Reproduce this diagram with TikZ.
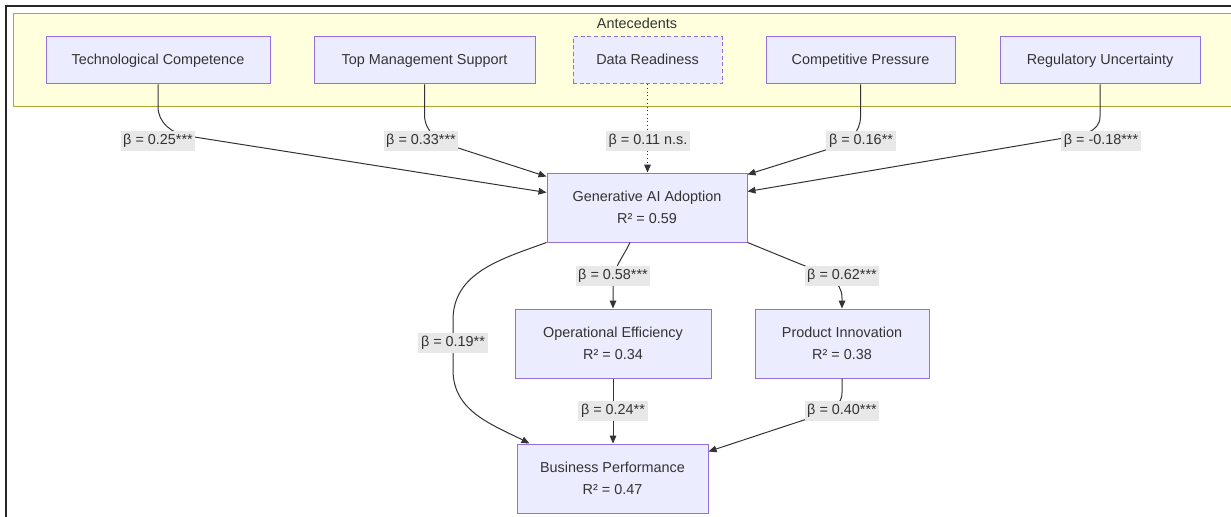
\documentclass[tikz,border=0pt]{standalone}
\usepackage{fontspec}
\setmainfont{Liberation Sans}
\usetikzlibrary{arrows.meta,calc}
\definecolor{mmfill}{HTML}{ECECFF}
\definecolor{mmline}{HTML}{9370DB}
\definecolor{mmgroup}{HTML}{FFFFDE}
\definecolor{mmgroupline}{HTML}{AAAA33}
\definecolor{mmedge}{HTML}{333333}
\definecolor{mmlabel}{HTML}{E8E8E8}

\begin{document}
\begin{tikzpicture}[x=0.75pt, y=0.75pt,
  every node/.style={font=\fontsize{10.8}{16.5}\selectfont, text=mmedge},
  construct/.style={draw=mmline, fill=mmfill, line width=0.75pt, minimum height=35.25pt, inner sep=0pt, align=center},
  antecedent/.style={construct, text height=8pt, text depth=2.5pt},
  outcome/.style={construct, minimum height=51.75pt},
  path/.style={draw=mmedge, line width=0.75pt, -{Triangle[length=6pt,width=5pt]}},
  coef/.style={fill=mmlabel, inner xsep=2pt, inner ysep=2pt, text height=8pt, text depth=2.5pt}]

  \useasboundingbox (0,0) rectangle (1231,-517);

  % ---- Frame ----
  \draw[black!85, line width=1pt] (6,-517) -- (6,-6) -- (1231,-6);

  % ---- Antecedents group ----
  \fill[mmgroup] (13.5,-14) rectangle (1231,-106);
  \draw[mmgroupline, line width=0.75pt] (1231,-14) -- (13.5,-14) -- (13.5,-106) -- (1231,-106);
  \node (ante) at (637,-23) {Antecedents};

  % ---- Constructs ----
  \node[antecedent, minimum width=168pt] (tc) at (158,-60.5) {Technological Competence};
  \node[antecedent, minimum width=165.75pt] (tm) at (424.5,-60.5) {Top Management Support};
  \node[antecedent, dash pattern=on 3pt off 2pt, minimum width=111.75pt] (dr) at (647.5,-60.5) {Data Readiness};
  \node[antecedent, minimum width=141.75pt] (cp) at (860.5,-60.5) {Competitive Pressure};
  \node[antecedent, minimum width=150pt] (ru) at (1100,-60.5) {Regulatory Uncertainty};

  \node[outcome, minimum width=150pt] (gai) at (647,-207.5) {Generative AI Adoption\\R² = 0.59};
  \node[outcome, minimum width=147pt] (oe) at (613,-343.5) {Operational Efficiency\\R² = 0.34};
  \node[outcome, minimum width=130.5pt] (pi) at (842,-343.5) {Product Innovation\\R² = 0.38};
  \node[outcome, minimum width=143.25pt] (bp) at (612.5,-478.5) {Business Performance\\R² = 0.47};

  % ---- Antecedents -> adoption ----
  \draw[path] (tc.south) -- ++(0,-22) to[out=-90,in=171] (188,-136) -- ($(gai.north west)+(0,-20)$);
  \draw[path] (tm.south) -- ++(0,-30) to[out=-90,in=162] (455,-147) -- ($(gai.north west)+(0,-4)$);
  \draw[path, dotted] (dr.south) -- (dr.south |- gai.north);
  \draw[path] (cp.south) -- ++(0,-32) to[out=-90,in=18] (832,-148) -- ($(gai.north east)+(0,-2)$);
  \draw[path] (ru.south) -- ++(0,-32) to[out=-90,in=10] (1064,-138) -- ($(gai.north east)+(0,-19)$);

  % ---- Adoption -> outcomes ----
  \draw[path] ($(gai.south)+(-17,0)$) to[out=-115,in=90] (613,-285) -- (oe.north);
  \draw[path] (gai.south east) -- (810,-268) to[out=-22,in=90] (842,-298) -- (pi.north);
  \draw[path] (gai.south west) to[out=-160,in=90] (453,-320) -- (453,-370) to[out=-90,in=153] ($(bp.north west)+(13,0)$);
  \draw[path] (oe.south) -- (oe.south |- bp.north);
  \draw[path] (pi.south) -- ++(0,-14) to[out=-90,in=19] (810,-418) -- ($(bp.north east)+(0,-8)$);

  % ---- Path coefficients ----
  \node[coef] (b1) at (158,-141) {β = 0.25***};
  \node[coef] (b2) at (421,-141) {β = 0.33***};
  \node[coef] (b3) at (648,-141) {β = 0.11 n.s.};
  \node[coef] (b4) at (861,-141) {β = 0.16**};
  \node[coef] (b5) at (1101,-141) {β = -0.18***};
  \node[coef] (b6) at (613,-276) {β = 0.58***};
  \node[coef] (b7) at (842,-276) {β = 0.62***};
  \node[coef] (b8) at (453,-343) {β = 0.19**};
  \node[coef] (b9) at (613,-411) {β = 0.24**};
  \node[coef] (b10) at (842,-411) {β = 0.40***};

\end{tikzpicture}
\end{document}
